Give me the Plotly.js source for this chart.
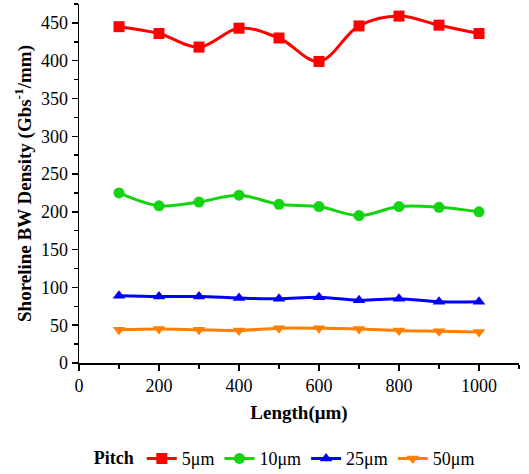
<!DOCTYPE html>
<html><head><meta charset="utf-8">
<script src="https://cdn.plot.ly/plotly-3.0.1.min.js"></script>
<style>html,body{margin:0;padding:0;background:#fff}</style>
</head><body>
<div id="chart" style="width:529px;height:474px"></div>
<script>
const lengths = [100, 200, 300, 400, 500, 600, 700, 800, 900, 1000];
const pitch5 = [445, 436, 418, 443, 430, 399, 446, 459, 447, 436];
const pitch10 = [225, 208, 213, 222, 210, 207, 195, 207, 206, 200];
const pitch25 = [89, 88, 88, 86, 85, 87, 83, 85, 81, 81];
const pitch50 = [44, 45, 44, 43, 46, 46, 45, 43, 42, 41];
const seriesNames = ['5μm', '10μm', '25μm', '50μm'];
const seriesColors = ['#ff0000', '#13d313', '#0000ff', '#ff8000'];
const seriesSymbols = ['square', 'circle', 'triangle-up', 'triangle-down'];
const seriesData = [pitch5, pitch10, pitch25, pitch50];

const traces = seriesData.map((ys, i) => ({
  x: lengths, y: ys, name: seriesNames[i], type: 'scatter', mode: 'lines+markers',
  line: {color: seriesColors[i], width: 3, shape: 'spline', smoothing: 1},
  marker: {color: seriesColors[i], symbol: seriesSymbols[i], size: 11}
}));

const font = {family: '"Liberation Serif", "Times New Roman", serif', color: '#000'};
const layout = {
  width: 529, height: 474,
  margin: {l: 79, r: 10, t: 4, b: 111, autoexpand: false},
  paper_bgcolor: '#fff', plot_bgcolor: '#fff',
  font: Object.assign({size: 18}, font),
  showlegend: true,
  legend: {
    orientation: 'h', x: 0.47, xanchor: 'center', y: -0.215, yanchor: 'top',
    title: {text: '<b>Pitch</b>', side: 'left', font: Object.assign({size: 18}, font)},
    font: Object.assign({size: 18}, font),
    itemwidth: 30, tracegroupgap: 0
  },
  xaxis: {
    range: [0, 1100], tickvals: [0, 200, 400, 600, 800, 1000],
    ticks: 'outside', ticklen: 6, tickwidth: 1.5, tickcolor: '#000',
    showline: true, linecolor: '#000', linewidth: 1.5, showgrid: false, zeroline: false,
    minor: {tickvals: [100, 300, 500, 700, 900, 1100], ticks: 'outside', ticklen: 4, tickcolor: '#000', tickwidth: 1.5},
    tickfont: Object.assign({size: 18}, font),
    title: {text: '<b>Length(μm)</b>', font: Object.assign({size: 19}, font), standoff: 10}
  },
  yaxis: {
    range: [0, 475], dtick: 50, tick0: 0,
    ticks: 'outside', ticklen: 6, tickwidth: 1.5, tickcolor: '#000',
    showline: true, linecolor: '#000', linewidth: 1.5, showgrid: false, zeroline: false,
    minor: {dtick: 25, ticks: 'outside', ticklen: 4, tickcolor: '#000', tickwidth: 1.5},
    tickfont: Object.assign({size: 18}, font),
    title: {text: '<b>Shoreline BW Density (Gbs<sup>-1</sup>/mm)</b>', font: Object.assign({size: 19}, font), standoff: 4}
  }
};
Plotly.newPlot('chart', traces, layout, {displayModeBar: false, staticPlot: true});
</script>
</body></html>
